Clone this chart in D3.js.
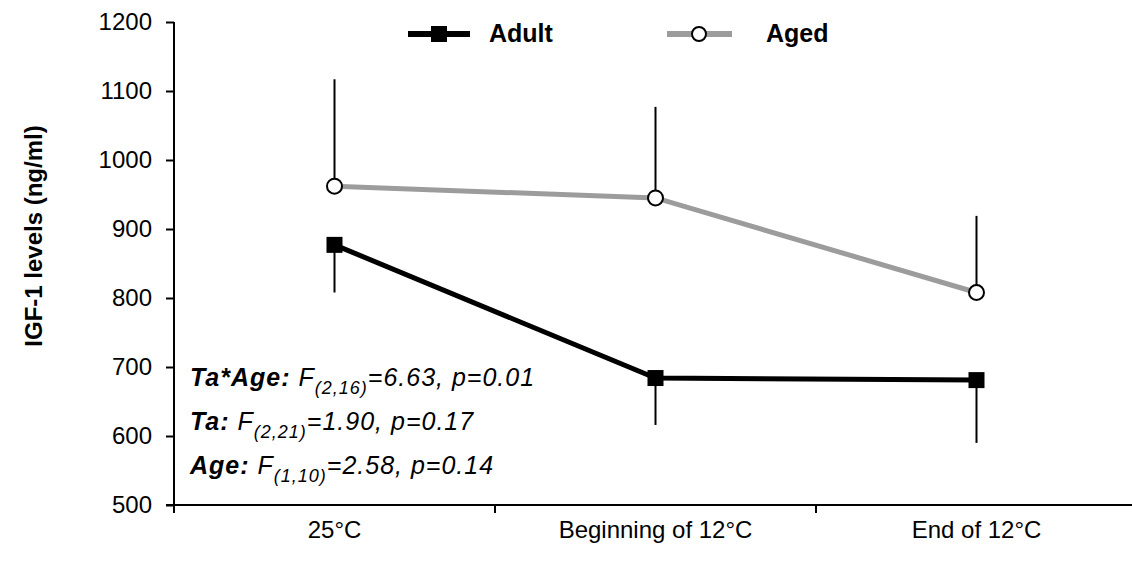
<!DOCTYPE html>
<html><head><meta charset="utf-8">
<script src="https://cdn.jsdelivr.net/npm/d3@7"></script>
<style>body{margin:0;background:#fff}svg{display:block;font-family:"Liberation Sans",Arial,sans-serif}</style>
</head><body><svg id="c" width="1132" height="562"></svg>
<script>
const categories = ["25°C", "Beginning of 12°C", "End of 12°C"];
const adultValues = [877, 684, 681];
const adultErrors = [69, 68, 91];
const agedValues = [962, 945, 808];
const agedErrors = [155, 132, 111];
const yTicks = [500, 600, 700, 800, 900, 1000, 1100, 1200];
const seriesNames = ["Adult", "Aged"];

const svg = d3.select("#c");
const x = d3.scaleBand().domain(categories).range([174, 1137]).paddingInner(0).paddingOuter(0);
const y = d3.scaleLinear().domain([500, 1200]).range([505, 22]);
const cx = d => x(d) + x.bandwidth() / 2;

// Y axis
const yAxis = svg.append("g").attr("transform", "translate(174,0)")
  .call(d3.axisLeft(y).tickValues(yTicks).tickSize(8).tickPadding(14).tickFormat(d3.format("d")));
yAxis.select(".domain").attr("stroke", "#000").attr("stroke-width", 2).attr("d", "M0,22V505");
yAxis.selectAll(".tick line").attr("stroke", "#000").attr("stroke-width", 2);
yAxis.selectAll(".tick text").attr("font-size", 24).attr("fill", "#000").attr("font-family", "Liberation Sans, Arial");

// X axis
const xAxis = svg.append("g").attr("transform", "translate(0,505)")
  .call(d3.axisBottom(x).tickSize(0).tickPadding(13));
xAxis.select(".domain").attr("stroke", "#000").attr("stroke-width", 2).attr("d", "M166,0H1137");
xAxis.selectAll(".tick text").attr("font-size", 24).attr("fill", "#000").attr("font-family", "Liberation Sans, Arial").attr("dy", "0.85em");
svg.append("g").selectAll("line").data(categories).join("line")
  .attr("x1", d => x(d)).attr("x2", d => x(d)).attr("y1", 505).attr("y2", 513)
  .attr("stroke", "#000").attr("stroke-width", 2);

// Y label
svg.append("text").attr("transform", "translate(42,236) rotate(-90)")
  .attr("text-anchor", "middle").attr("font-size", 24).attr("font-weight", "bold")
  .text("IGF-1 levels (ng/ml)");

// Error bars
svg.append("g").selectAll("line").data(categories).join("line")
  .attr("x1", d => cx(d)).attr("x2", d => cx(d))
  .attr("y1", (d, i) => y(agedValues[i])).attr("y2", (d, i) => y(agedValues[i] + agedErrors[i]))
  .attr("stroke", "#000").attr("stroke-width", 2);
svg.append("g").selectAll("line").data(categories).join("line")
  .attr("x1", d => cx(d)).attr("x2", d => cx(d))
  .attr("y1", (d, i) => y(adultValues[i])).attr("y2", (d, i) => y(adultValues[i] - adultErrors[i]))
  .attr("stroke", "#000").attr("stroke-width", 2);

// Lines
const line = d3.line().x(d => cx(d.c)).y(d => y(d.v));
const agedPts = categories.map((c, i) => ({c, v: agedValues[i]}));
const adultPts = categories.map((c, i) => ({c, v: adultValues[i]}));
svg.append("path").datum(agedPts).attr("d", line).attr("fill", "none").attr("stroke", "#9c9c9c").attr("stroke-width", 5);
svg.append("path").datum(adultPts).attr("d", line).attr("fill", "none").attr("stroke", "#000").attr("stroke-width", 5);

// Markers
svg.append("g").selectAll("circle").data(agedPts).join("circle")
  .attr("cx", d => cx(d.c)).attr("cy", d => y(d.v)).attr("r", 7.5)
  .attr("fill", "#fff").attr("stroke", "#000").attr("stroke-width", 2);
svg.append("g").selectAll("rect").data(adultPts).join("rect")
  .attr("x", d => cx(d.c) - 8).attr("y", d => y(d.v) - 8).attr("width", 16).attr("height", 16)
  .attr("fill", "#000");

// Legend
const lg = svg.append("g");
lg.append("line").attr("x1", 408).attr("x2", 470).attr("y1", 34).attr("y2", 34).attr("stroke", "#000").attr("stroke-width", 6);
lg.append("rect").attr("x", 431).attr("y", 26).attr("width", 16).attr("height", 16).attr("fill", "#000");
lg.append("text").attr("x", 489).attr("y", 42).attr("font-size", 25).attr("font-weight", "bold").text(seriesNames[0]);
lg.append("line").attr("x1", 667).attr("x2", 732).attr("y1", 34).attr("y2", 34).attr("stroke", "#9c9c9c").attr("stroke-width", 6);
lg.append("circle").attr("cx", 699).attr("cy", 34).attr("r", 7).attr("fill", "#fff").attr("stroke", "#000").attr("stroke-width", 2);
lg.append("text").attr("x", 766).attr("y", 42).attr("font-size", 25).attr("font-weight", "bold").text(seriesNames[1]);

// Annotations
const stats = [
  {lab: "Ta*Age:", df: "(2,16)", rest: "=6.63, p=0.01", yy: 386},
  {lab: "Ta:", df: "(2,21)", rest: "=1.90, p=0.17", yy: 430},
  {lab: "Age:", df: "(1,10)", rest: "=2.58, p=0.14", yy: 474}
];
stats.forEach(s => {
  const t = svg.append("text").attr("x", 190).attr("y", s.yy).attr("font-size", 25).attr("font-style", "italic").attr("letter-spacing", 1);
  t.append("tspan").attr("font-weight", "bold").text(s.lab + " ");
  t.append("tspan").text("F");
  t.append("tspan").attr("font-size", 18).attr("dy", 8).text(s.df);
  t.append("tspan").attr("dy", -8).text(s.rest);
});
</script></body></html>
